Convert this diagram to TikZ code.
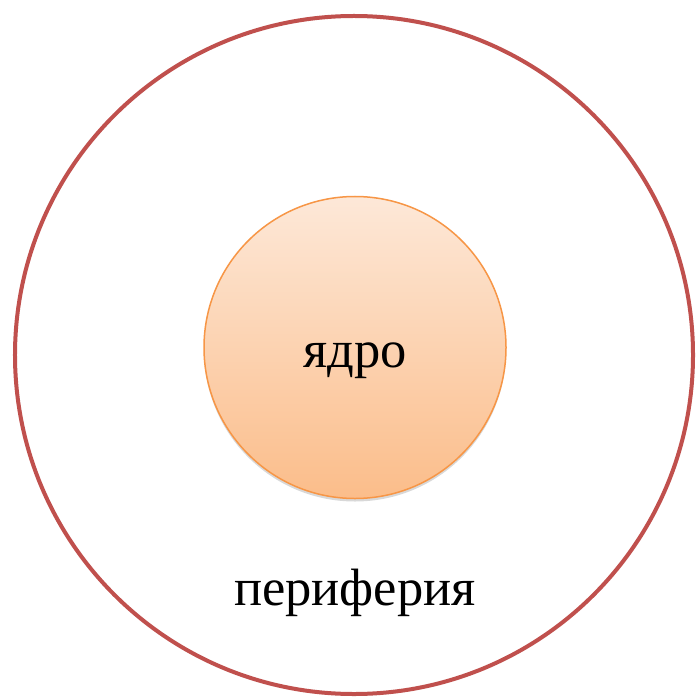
\documentclass[tikz,border=0pt]{standalone}
\usepackage{fontspec}
\setmainfont{Liberation Serif}
\usetikzlibrary{shadows}
\definecolor{outerred}{HTML}{C0504D}
\definecolor{coreedge}{HTML}{F79646}
\definecolor{coretop}{HTML}{FDE8D8}
\definecolor{corebot}{HTML}{FBBD8A}
\tikzset{
  outerring/.style={circle, draw=outerred, line width=4bp, minimum size=678bp, inner sep=0pt},
  corecircle/.style={circle, draw=coreedge, line width=1.5bp, top color=coretop, bottom color=corebot, minimum size=302bp, inner sep=0pt,
    drop shadow={shadow xshift=0bp, shadow yshift=-3bp, opacity=0.25, fill=black!60}},
  lbl/.style={font=\fontsize{52.5bp}{58bp}\selectfont, inner sep=0pt, anchor=base}
}
\begin{document}
\begin{tikzpicture}[x=1bp, y=-1bp]
  \useasboundingbox (0,0) rectangle (696,697);
  \fill[white] (0,0) rectangle (696,697);
  \node[outerring] (outer) at (354,355) {};
  \node[corecircle] (core) at (355,347.5) {};
  \node[lbl] (coretext) at (355,367) {ядро};
  \node[lbl] (periph) at (355,605) {периферия};
\end{tikzpicture}
\end{document}
